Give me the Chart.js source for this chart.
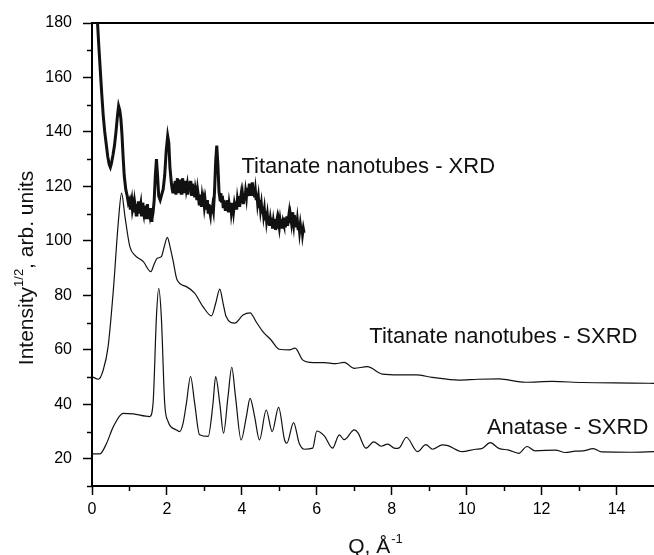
<!DOCTYPE html>
<html><head><meta charset="utf-8">
<script src="https://cdn.jsdelivr.net/npm/chart.js@4/dist/chart.umd.min.js"></script>
<style>html,body{margin:0;padding:0;background:#fff;}#wrap{width:654px;height:555px;position:relative}</style>
</head><body><div id="wrap"><canvas id="c" width="654" height="555"></canvas></div>
<script>
// ---- data ----
const qXRD = [0.14,0.18,0.22,0.26,0.30,0.34,0.38,0.42,0.46,0.49,0.52,0.56,0.60,0.64,0.68,0.71,0.74,0.77,0.80,0.83,0.86,0.90,0.94,0.97,1.00,
  1.02,1.04,1.06,1.08,1.10,1.12,1.14,1.16,1.18,1.20,1.22,1.24,1.26,1.28,1.30,1.32,1.34,1.36,1.38,1.40,1.42,1.44,1.46,1.48,1.50,1.52,1.54,1.56,1.58,1.60,1.63,1.66,1.69,1.72,1.75,1.78,1.82,1.86,1.90,1.94,1.98,
  2.02,2.05,2.08,2.12,2.14,2.16,2.18,2.20,2.22,2.24,2.26,2.28,2.30,2.32,2.34,2.36,2.38,2.40,2.42,2.44,2.46,2.48,2.50,2.52,2.54,2.56,2.58,2.60,2.62,2.64,2.66,2.68,2.70,2.72,2.74,2.76,2.78,2.80,2.82,2.84,2.86,2.88,2.90,2.92,2.94,2.96,2.98,3.00,
  3.02,3.04,3.06,3.08,3.10,3.12,3.14,3.16,3.18,3.20,3.22,3.24,3.27,3.30,3.33,3.36,3.39,3.42,3.44,3.46,3.48,3.50,3.52,3.54,3.56,3.58,3.60,3.62,3.64,3.66,3.68,3.70,3.72,3.74,3.76,3.78,3.80,3.82,3.84,3.86,3.88,3.90,3.92,3.94,3.96,3.98,
  4.00,4.02,4.04,4.06,4.08,4.10,4.12,4.14,4.16,4.18,4.20,4.22,4.24,4.26,4.28,4.30,4.32,4.34,4.36,4.38,4.40,4.42,4.44,4.46,4.48,4.50,4.52,4.54,4.56,4.58,4.60,4.62,4.64,4.66,4.68,4.70,4.72,4.74,4.76,4.78,4.80,4.82,4.84,4.86,4.88,4.90,4.92,4.94,4.96,4.98,5.00,
  5.02,5.04,5.06,5.08,5.10,5.12,5.14,5.16,5.18,5.20,5.22,5.24,5.26,5.28,5.30,5.32,5.34,5.36,5.38,5.40,5.42,5.44,5.46,5.48,5.50,5.52,5.54,5.56,5.58,5.60,5.62,5.64,5.66];
const iXRD = [182,172,163,154,146,140,135.5,131,128,127,128.5,131.5,135,140,146,149.5,148,145,139,131,124,119,116.5,114,115,
  112,113.5,115,111.5,113,110.5,114,112,109.5,113.5,111,114.5,110.5,112,113.5,109,114,111.5,110,113,108.5,112.5,110,113.5,108.5,111,109.5,112,107.5,108,110.5,115,124,130,124,116.5,115,117,119,124,133,
  138.5,136,127,121,119,117.5,121,118.5,122,117,120.5,123,118,121.5,119,122.5,117.5,121,123,118.5,121,117.5,122,119,120.5,117,121.5,118.5,122,119.5,116.5,121,118,120.5,116,119,117.5,115,118.5,116.5,113.5,117,115.5,112.5,116,114,115.5,112.5,
  114.5,111.5,113,115,110.5,113.5,111,109.5,113,110,112.5,111,118,129,135,128,118,115,117.5,114,116.5,112.5,115,113.5,111,114.5,112,115,110.5,113.5,111.5,114,110.5,112.5,114,111,113.5,112,114.5,111.5,115,113,116.5,112.5,115,117,114,116.5,
  113.5,117.5,115,118,116,119.5,116.5,118,121,117,120.5,118,121.5,117,119.5,116,118.5,115.5,117.5,114,116,112.5,115,111.5,113.5,110.5,112.5,109.5,111.5,108,111,107.5,109.5,106.5,109,105.5,108,106,108.5,104.5,107,105,108,104,106.5,108,104.5,107,105,107.5,105.5,
  108,104.5,107,106,108.5,105,107.5,109,105.5,108,110,106.5,109,107,110.5,108,106,109.5,107,108.5,105,107.5,104.5,106.5,103.5,106,104,105.5,102.5,104.5,103,104,102.5];

const qTNT = [0,0.17,0.30,0.43,0.57,0.70,0.79,0.88,1.01,1.14,1.37,1.57,1.66,1.74,1.85,1.93,2.01,2.08,2.16,2.27,2.52,2.74,2.96,3.19,3.30,3.41,3.50,3.58,
  3.81,4.03,4.22,4.38,4.56,4.78,5.00,5.27,5.42,5.62,5.80,6.20,6.50,6.73,7.00,7.35,7.75,8.19,8.65,9.08,9.79,10.30,10.86,11.57,12.28,13.08,14.41,15.0];
const iTNT = [50.2,49.2,52.6,61.2,82,106.5,117.5,108.9,97.9,94.8,92.4,88.7,91.5,93.6,94.2,98,101.3,98,93,85.7,83.2,80.8,75.9,72.5,77,82.3,77,72.2,
  69.8,72.8,73.6,70.3,66.7,63.6,60.2,60,60.6,56.3,55.4,55.3,54.9,55.4,53.2,53.8,51.1,50.8,50.8,49.9,48.9,49.2,49.3,48.1,48.4,48,47.8,47.7];

const qANA = [0,0.21,0.39,0.57,0.83,1.10,1.54,1.63,1.72,1.78,1.85,1.94,2.03,2.25,2.34,2.43,2.52,2.63,2.74,2.87,3.10,3.23,3.30,3.41,3.51,3.63,3.73,3.83,
  3.98,4.12,4.22,4.34,4.47,4.65,4.81,4.98,5.14,5.20,5.38,5.53,5.67,5.89,6.00,6.20,6.42,6.60,6.73,7.00,7.10,7.31,7.52,7.72,7.89,8.09,8.20,8.39,
  8.69,8.91,9.09,9.35,9.50,9.88,10.24,10.40,10.63,10.86,11.12,11.39,11.61,11.83,12.37,12.63,12.90,13.10,13.38,13.60,14.41,15.0];
const iANA = [21.8,21.8,25.7,31.8,36.7,36.5,35.5,40.4,72.2,82.6,72.2,40.4,33.7,30.6,30,33,40.4,50.2,40.4,28.8,28.2,40.4,50.2,40.4,29.4,42.8,53.6,42.8,
  26.9,35.5,42.2,35.5,26.9,37.9,30,38.9,26.9,25.7,33.3,25.7,23.5,23.9,30.2,28.4,23.9,28.8,27,30.6,29.5,23.9,26.2,24.6,25.4,23.8,24,27.9,
  22.6,25.2,23.5,25.1,24.8,22.6,23.5,23.7,25.9,23.8,23.2,22,24.5,22.9,23.2,22.3,22.8,22.9,23.7,22.5,22.4,22.6];

const seriesNames = ["Titanate nanotubes - XRD","Titanate nanotubes - SXRD","Anatase - SXRD"];
const xTicks = [0,2,4,6,8,10,12,14];
const xMinor = [1,3,5,7,9,11,13];
const yTicks = [20,40,60,80,100,120,140,160,180];
const yMinor = [10,30,50,70,90,110,130,150,170];

// ---- chart ----
const FONT = '"Liberation Sans", Arial, sans-serif';
const pts = (q, v) => q.map((x, i) => ({x: x, y: v[i]}));

const labelAnchors = [
  {text: seriesNames[0], x: 3.99, y: 127.1},
  {text: seriesNames[1], x: 7.40, y: 64.7},
  {text: seriesNames[2], x: 10.54, y: 31.3}
];

const decor = {
  id: 'decor',
  afterDraw(chart) {
    const ctx = chart.ctx, xs = chart.scales.x, ys = chart.scales.y;
    const a = chart.chartArea;
    ctx.save();
    ctx.strokeStyle = '#000'; ctx.lineWidth = 1.5;
    // minor ticks
    yMinor.forEach(v => {
      const p = Math.round(ys.getPixelForValue(v)) + 0.5;
      ctx.beginPath(); ctx.moveTo(a.left - 5, p); ctx.lineTo(a.left, p); ctx.stroke();
    });
    xMinor.forEach(v => {
      const p = Math.round(xs.getPixelForValue(v)) + 0.5;
      ctx.beginPath(); ctx.moveTo(p, a.bottom); ctx.lineTo(p, a.bottom + 5); ctx.stroke();
    });
    // annotations
    ctx.fillStyle = '#111';
    ctx.font = '22px ' + FONT;
    ctx.textBaseline = 'middle'; ctx.textAlign = 'left';
    labelAnchors.forEach(l => {
      ctx.fillText(l.text, xs.getPixelForValue(l.x), ys.getPixelForValue(l.y));
    });
    // x title with superscript
    const big = '21px ' + FONT, small = '13px ' + FONT;
    ctx.textBaseline = 'alphabetic';
    ctx.font = big; const w1 = ctx.measureText('Q, Å').width;
    ctx.font = small; const w2 = ctx.measureText('-1').width;
    let x0 = (a.left + a.right) / 2 - (w1 + w2) / 2 + 2;
    const yb = 553;
    ctx.font = big; ctx.fillText('Q, Å', x0, yb);
    ctx.font = small; ctx.fillText('-1', x0 + w1 + 1, yb - 10);
    // y title rotated
    const parts = [['Intensity', big, 0], ['1/2', small, -10], [', arb. units', big, 0]];
    let tw = 0;
    parts.forEach(p => { ctx.font = p[1]; p.push(ctx.measureText(p[0]).width); tw += p[3]; });
    ctx.translate(33, 268);
    ctx.rotate(-Math.PI / 2);
    let cx = -tw / 2;
    parts.forEach(p => { ctx.font = p[1]; ctx.fillText(p[0], cx, p[2]); cx += p[3]; });
    ctx.restore();
  }
};

const lineDs = (label, data, w, extra) => Object.assign({
  label, data, borderColor: '#111', borderWidth: w, pointRadius: 0, fill: false
}, extra);

new Chart(document.getElementById('c'), {
  type: 'line',
  data: {
    datasets: [
      lineDs(seriesNames[0], pts(qXRD, iXRD), 3, {tension: 0}),
      lineDs(seriesNames[1], pts(qTNT, iTNT), 1.2, {cubicInterpolationMode: 'monotone'}),
      lineDs(seriesNames[2], pts(qANA, iANA), 1.2, {cubicInterpolationMode: 'monotone'})
    ]
  },
  options: {
    responsive: false,
    animation: false,
    devicePixelRatio: 1,
    layout: {padding: 0},
    plugins: {legend: {display: false}, tooltip: {enabled: false}},
    scales: {
      x: {
        type: 'linear', position: 'bottom', min: 0, max: 15,
        afterBuildTicks: s => { s.ticks = xTicks.map(v => ({value: v})); },
        afterFit: s => { s.height = 69; },
        ticks: {color: '#000', font: {family: FONT, size: 16}, padding: 5, maxRotation: 0, autoSkip: false},
        grid: {display: true, drawOnChartArea: false, drawTicks: true, tickLength: 9, tickColor: '#000', tickWidth: 1.5},
        border: {display: true, color: '#000', width: 2}
      },
      xTop: {
        type: 'linear', position: 'top', min: 0, max: 15,
        afterBuildTicks: s => { s.ticks = []; },
        afterFit: s => { s.height = 23; },
        ticks: {display: false},
        grid: {display: true, drawOnChartArea: false, drawTicks: false},
        border: {display: true, color: '#000', width: 2}
      },
      y: {
        type: 'linear', position: 'left', min: 10, max: 180,
        afterBuildTicks: s => { s.ticks = yTicks.map(v => ({value: v})); },
        afterFit: s => { s.width = 92; },
        ticks: {color: '#000', font: {family: FONT, size: 16}, padding: 11},
        grid: {display: true, drawOnChartArea: false, drawTicks: true, tickLength: 9, tickColor: '#000', tickWidth: 1.5},
        border: {display: true, color: '#000', width: 2}
      }
    }
  },
  plugins: [decor]
});
</script></body></html>
